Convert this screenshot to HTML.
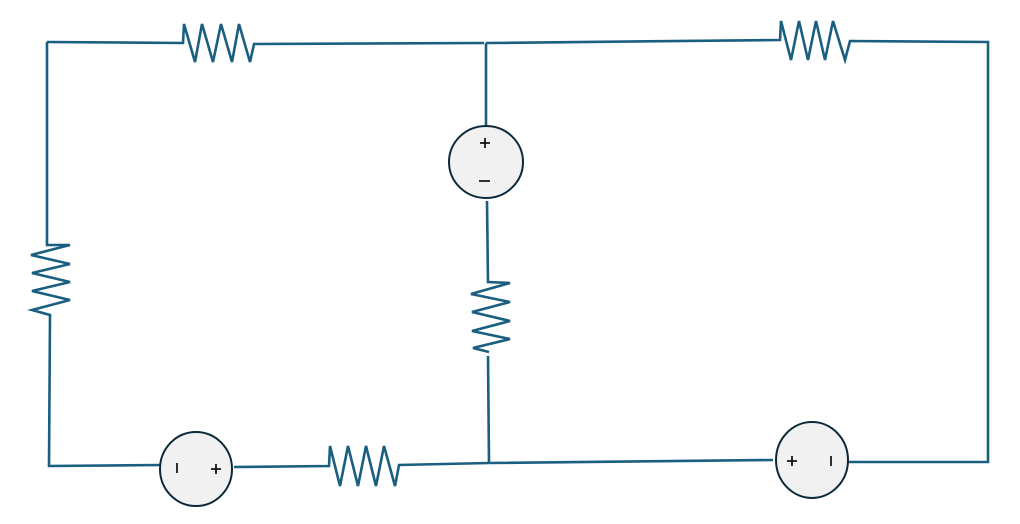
<!DOCTYPE html>
<html><head><style>html,body{margin:0;padding:0;background:#fff;width:1020px;height:524px;overflow:hidden}</style></head>
<body>
<svg width="1020" height="524" viewBox="0 0 1020 524" xmlns="http://www.w3.org/2000/svg">
<g fill="none" stroke="#1a5e80" stroke-width="2.6" stroke-linejoin="miter">
<polyline points="47,42 183,43 184,24 195,62 202,24 213,62 221,24 232,62 239,24 250,62 254,44 484,43"/>
<line x1="486" y1="43" x2="486" y2="126"/>
<polyline points="486,43 780,40 781,21 791,60 799,21 808,60 816,21 825,60 833,21 845,60 850,41 988,42 988,462 848,462"/>
<polyline points="47,42 47,245 70,245 31,255 70,264 32,273 70,282 32,291 70,300 32,310 50,315 49,466 160,465"/>
<polyline points="487,201 488,282 510,283 471,294 510,302 472,312 510,321 472,331 510,339 473,348 489,352"/>
<polyline points="488,356 489,463"/>
<polyline points="234,467 329,466 330,446 340,486 348,446 358,486 366,446 376,486 384,446 395,486 399,465 489,463 773,460"/>
</g>
<g fill="#f1f1f1" stroke="#0e2a3a" stroke-width="2">
<ellipse cx="486" cy="162" rx="37" ry="36"/>
<ellipse cx="196" cy="469" rx="36" ry="37"/>
<ellipse cx="812" cy="460" rx="36" ry="38"/>
</g>
<g stroke="#000" stroke-width="1.6">
<line x1="480" y1="143" x2="490" y2="143"/><line x1="485" y1="138" x2="485" y2="148"/>
<line x1="479" y1="181" x2="490" y2="181"/>
<line x1="177" y1="463" x2="177" y2="473"/>
<line x1="211" y1="469" x2="221" y2="469"/><line x1="216" y1="464" x2="216" y2="474"/>
<line x1="787" y1="461" x2="797" y2="461"/><line x1="792" y1="456" x2="792" y2="466"/>
<line x1="831" y1="456" x2="831" y2="466"/>
</g>
</svg>
</body></html>
